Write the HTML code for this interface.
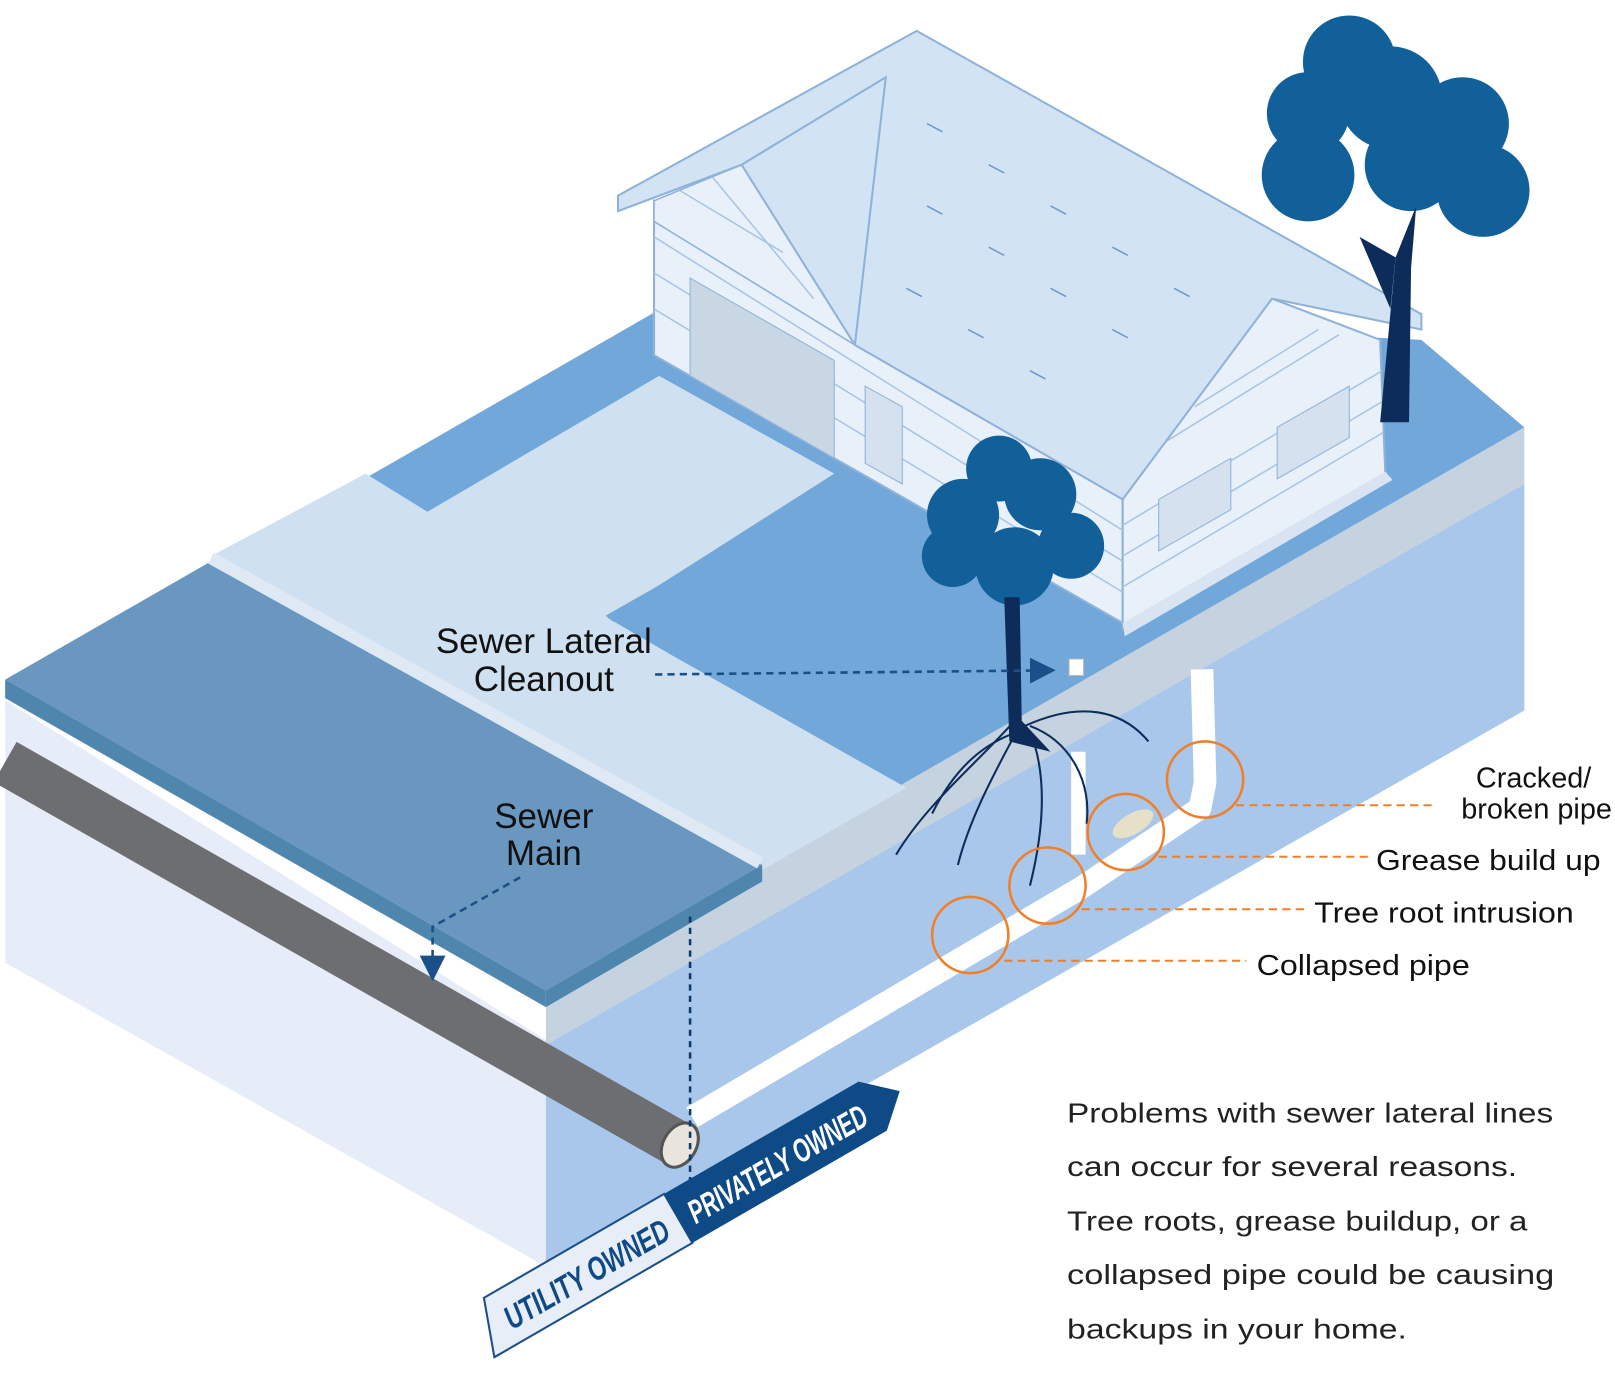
<!DOCTYPE html>
<html><head><meta charset="utf-8"><style>
html,body{margin:0;padding:0;background:#fff;}
svg{display:block;}
text{font-family:"Liberation Sans",sans-serif;}
</style></head><body>
<svg width="1615" height="1385" viewBox="0 0 1568 1345" preserveAspectRatio="none" xmlns="http://www.w3.org/2000/svg">
<defs>
<marker id="ab" markerWidth="10" markerHeight="10" refX="8" refY="5" orient="auto"><path d="M0,0 L10,5 L0,10 z" fill="#1a4f88"/></marker>
</defs>
<polygon points="5,680 530,1010 530,1230 5,935" fill="#e6edf8"/>
<polygon points="530,1010 1480,470 1480,690 530,1230" fill="#a9c7eb"/>
<polygon points="530,960 1480,415 1480,470 530,1015" fill="#c5d2e0"/>
<polygon points="5,665 650,295 1380,330 1480,415 870,765 740,845 530,960" fill="#72a7da"/>
<polygon points="205,540 355,460 415,497 640,365 810,460 590,600 650,635 880,765 740,845" fill="#cfe0f1"/>
<polygon points="588,598 812,470 818,478 596,604" fill="#72a7da"/>
<polygon points="5,660 205,545 740,840 530,962" fill="#6a97bf"/>
<polygon points="5,660 530,962 530,978 5,678" fill="#4f86ad"/>
<polygon points="530,962 740,840 740,856 530,978" fill="#4f86ad"/>
<line x1="205" y1="542" x2="738" y2="838" stroke="#dfe9f4" stroke-width="12"/>
<line x1="5" y1="740" x2="660" y2="1112" stroke="#6d6e72" stroke-width="45"/>
<ellipse cx="660" cy="1112" rx="16" ry="23" transform="rotate(30 660 1112)" fill="#e9e4dc" stroke="#555" stroke-width="3"/>
<polyline points="672,1085 1050,862 1165,785 1170,760 1167,650" fill="none" stroke="#fff" stroke-width="22" stroke-linejoin="round"/>
<line x1="1047" y1="730" x2="1047" y2="830" stroke="#fff" stroke-width="14"/>
<line x1="670" y1="890" x2="670" y2="1165" stroke="#0d3a6a" stroke-width="2.5" stroke-dasharray="6,5"/>
<polygon points="635,195 1090,480 1090,605 635,345" fill="#e8f0f9" stroke="#8fb2d8" stroke-width="2"/>
<polygon points="1090,480 1235,290 1340,330 1345,460 1090,610" fill="#e8f0f9" stroke="#8fb2d8" stroke-width="2"/>
<polygon points="720,160 830,335 635,215 635,195" fill="#e8f0f9" stroke="#8fb2d8" stroke-width="1.5"/>
<g stroke="#a9c5e3" stroke-width="1.5">
<line x1="1090" y1="510" x2="1342" y2="360"/><line x1="1090" y1="540" x2="1342" y2="390"/><line x1="1090" y1="570" x2="1343" y2="420"/>
<line x1="1130" y1="430" x2="1300" y2="325"/><line x1="1160" y1="395" x2="1280" y2="320"/>
<line x1="635" y1="230" x2="1090" y2="515"/><line x1="635" y1="265" x2="1090" y2="545"/><line x1="635" y1="300" x2="1090" y2="575"/>
<line x1="660" y1="185" x2="760" y2="245"/><line x1="690" y1="170" x2="790" y2="290"/>
</g>
<polygon points="670,270 810,350 810,445 670,365" fill="#c9d6e3" stroke="#8fb2d8"/>
<polygon points="840,375 876,395 876,470 840,450" fill="#d5e1ee" stroke="#8fb2d8"/>
<polygon points="1125,485 1195,445 1195,495 1125,535" fill="#d5e1ee" stroke="#8fb2d8"/>
<polygon points="1240,415 1310,375 1310,425 1240,465" fill="#d5e1ee" stroke="#8fb2d8"/>
<polygon points="1090,605 1345,458 1352,466 1092,618" fill="#d8e4f1"/>
<polygon points="600,190 890,30 1380,305 1380,320 1235,290 1090,485 830,335 720,160 600,205" fill="#d2e3f3" stroke="#8fb2d8" stroke-width="2"/>
<polyline points="720,160 860,75 830,335" fill="none" stroke="#8fb2d8" stroke-width="2"/>
<g stroke="#6f98c8" stroke-width="1.5">
<line x1="900" y1="120" x2="915" y2="128"/><line x1="960" y1="160" x2="975" y2="168"/><line x1="1020" y1="200" x2="1035" y2="208"/><line x1="1080" y1="240" x2="1095" y2="248"/><line x1="1140" y1="280" x2="1155" y2="288"/><line x1="900" y1="200" x2="915" y2="208"/><line x1="960" y1="240" x2="975" y2="248"/><line x1="1020" y1="280" x2="1035" y2="288"/><line x1="1080" y1="320" x2="1095" y2="328"/><line x1="880" y1="280" x2="895" y2="288"/><line x1="940" y1="320" x2="955" y2="328"/><line x1="1000" y1="360" x2="1015" y2="368"/>
</g>
<g fill="#12609a">
<circle cx="1310" cy="60" r="45"/><circle cx="1270" cy="110" r="40"/><circle cx="1350" cy="95" r="50"/><circle cx="1420" cy="120" r="45"/><circle cx="1270" cy="170" r="45"/><circle cx="1440" cy="185" r="45"/><circle cx="1370" cy="160" r="45"/>
</g>
<path d="M1340,410 L1355,250 L1375,200 L1370,260 L1368,410 z" fill="#0d2c5a"/>
<path d="M1320,230 L1350,300 L1355,250 z" fill="#0d2c5a"/>
<g fill="#12609a">
<circle cx="970" cy="455" r="32"/><circle cx="935" cy="500" r="35"/><circle cx="1010" cy="480" r="35"/><circle cx="1040" cy="530" r="32"/><circle cx="925" cy="540" r="30"/><circle cx="985" cy="550" r="38"/>
</g>
<path d="M975,580 L990,580 L992,700 L1020,730 L980,720 z" fill="#0d2c5a"/>
<g stroke="#0d2c5a" stroke-width="2" fill="none">
<path d="M985,700 C950,740 900,780 870,830"/><path d="M990,705 C960,760 940,800 930,840"/><path d="M995,705 C1050,680 1090,690 1115,720"/><path d="M1000,710 C1020,760 1010,820 1000,860"/><path d="M990,710 C960,720 930,740 905,790"/><path d="M1000,705 C1040,720 1060,760 1055,800"/>
</g>
<rect x="1038" y="640" width="14" height="16" fill="#fff" stroke="#bbb"/>
<g fill="none" stroke="#f07f2a" stroke-width="2.5">
<circle cx="1170" cy="757" r="37"/><circle cx="1093" cy="808" r="37"/><circle cx="1017" cy="860" r="37"/><circle cx="942" cy="908" r="37"/>
</g>
<ellipse cx="1100" cy="800" rx="22" ry="10" transform="rotate(-30 1100 800)" fill="#e6e0c8"/>
<g stroke="#f07f2a" stroke-width="2" stroke-dasharray="8,5">
<line x1="1200" y1="782" x2="1392" y2="782"/><line x1="1125" y1="832" x2="1330" y2="832"/><line x1="1050" y1="883" x2="1270" y2="883"/><line x1="975" y1="933" x2="1210" y2="933"/>
</g>
<g font-size="28" fill="#111">
<text x="1545" y="765" text-anchor="end">Cracked/</text>
<text x="1565" y="795" text-anchor="end">broken pipe</text>
<text x="1336" y="845" textLength="218" lengthAdjust="spacingAndGlyphs">Grease build up</text>
<text x="1276" y="896" textLength="252" lengthAdjust="spacingAndGlyphs">Tree root intrusion</text>
<text x="1220" y="947" textLength="207" lengthAdjust="spacingAndGlyphs">Collapsed pipe</text>
</g>
<g font-size="34" fill="#111" text-anchor="middle">
<text x="528" y="634">Sewer Lateral</text><text x="528" y="671">Cleanout</text>
<text x="528" y="804">Sewer</text><text x="528" y="840">Main</text>
</g>
<g stroke="#1a4f88" stroke-width="2.5" stroke-dasharray="7,5" fill="none">
<line x1="636" y1="655" x2="1020" y2="651" marker-end="url(#ab)"/>
<polyline points="505,852 420,900 420,948" marker-end="url(#ab)"/>
</g>
<g transform="translate(480,1318) rotate(-30)">
<polygon points="0,0 20,-55 222,-55 222,0" fill="#e8eef8" stroke="#1a4f88" stroke-width="2"/>
<polygon points="222,0 222,-55 440,-55 470,-27 440,0" fill="#0d4a86"/>
<text x="28" y="-14" font-size="32" font-weight="bold" font-style="italic" fill="#0d4a86" textLength="180" lengthAdjust="spacingAndGlyphs">UTILITY OWNED</text>
<text x="234" y="-14" font-size="32" font-weight="bold" font-style="italic" fill="#fff" textLength="196" lengthAdjust="spacingAndGlyphs">PRIVATELY OWNED</text>
</g>
<g font-size="27" fill="#222">
<text x="1036" y="1090" textLength="472" lengthAdjust="spacingAndGlyphs">Problems with sewer lateral lines</text>
<text x="1036" y="1142" textLength="437" lengthAdjust="spacingAndGlyphs">can occur for several reasons.</text>
<text x="1036" y="1195" textLength="447" lengthAdjust="spacingAndGlyphs">Tree roots, grease buildup, or a</text>
<text x="1036" y="1247" textLength="473" lengthAdjust="spacingAndGlyphs">collapsed pipe could be causing</text>
<text x="1036" y="1300" textLength="330" lengthAdjust="spacingAndGlyphs">backups in your home.</text>
</g>
</svg>
</body></html>
